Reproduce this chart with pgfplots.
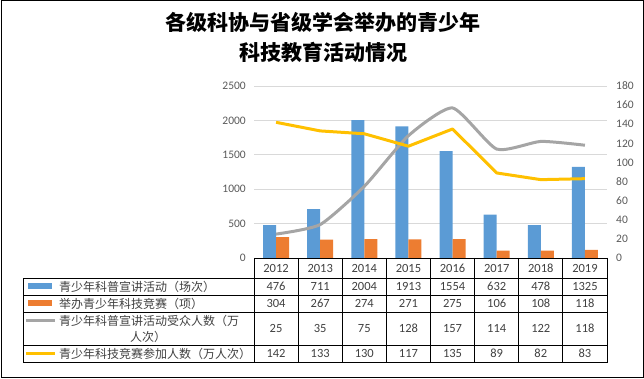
\documentclass[border=0pt]{standalone}
\usepackage{pgfplots}
\pgfplotsset{compat=1.18}
\usepackage{fontspec}
\setmainfont{Carlito}
\newfontfamily\cjk{Noto Sans CJK SC}
\definecolor{cblue}{HTML}{5B9BD5}
\definecolor{corange}{HTML}{ED7D31}
\definecolor{cgray}{HTML}{A5A5A5}
\definecolor{cyellow}{HTML}{FFC000}
\definecolor{ctext}{HTML}{404040}
\definecolor{ctick}{HTML}{595959}
\definecolor{cgrid}{HTML}{D9D9D9}
\begin{document}
\begin{tikzpicture}
\begin{scope}[x=1pt,y=1pt]
\useasboundingbox (0,0) rectangle (644,379);
\draw[line width=1pt] (1,1) rectangle (643,378);
\node[font=\cjk\bfseries\fontsize{21}{25}\selectfont] at (323,357) {各级科协与省级学会举办的青少年};
\node[font=\cjk\bfseries\fontsize{21}{25}\selectfont] at (323,327) {科技教育活动情况};
\end{scope}

\begin{axis}[at={(254pt,121pt)}, anchor=south west, scale only axis,
  width=353pt, height=172pt,
  xmin=-0.5, xmax=7.5, ymin=0, ymax=2500, ytick={0,500,...,2500},
  xtick=\empty, axis line style={draw=none}, ymajorgrids,
  grid style={cgrid, line width=0.75pt}, major tick length=0pt,
  ybar=0pt, bar width=13pt,
  tick label style={font=\fontsize{11.5}{12}\selectfont, text=ctick},
  /pgf/number format/assume math mode=true, /pgf/number format/1000 sep={},
  yticklabel style={xshift=-4.7pt}]
\addplot[fill=cblue, draw=none] coordinates {(0,476) (1,711) (2,2004) (3,1913) (4,1554) (5,632) (6,478) (7,1325)};
\addplot[fill=corange, draw=none] coordinates {(0,304) (1,267) (2,274) (3,271) (4,275) (5,106) (6,108) (7,118)};
\end{axis}

\begin{axis}[at={(254pt,121pt)}, anchor=south west, scale only axis,
  width=353pt, height=172pt,
  xmin=-0.5, xmax=7.5, ymin=0, ymax=180, ytick={0,20,...,180},
  axis y line*=right, axis x line=none, axis line style={draw=none},
  major tick length=0pt,
  tick label style={font=\fontsize{11.5}{12}\selectfont, text=ctick},
  /pgf/number format/assume math mode=true,
  yticklabel style={xshift=5.7pt}]
\addplot[cgray, line width=3pt, smooth, tension=0.35, mark=none] coordinates {(0,25) (1,35) (2,75) (3,128) (4,157) (5,114) (6,122) (7,118)};
\addplot[cyellow, line width=3pt, mark=none, line join=round] coordinates {(0,142) (1,133) (2,130) (3,117) (4,135) (5,89) (6,82) (7,83)};
\end{axis}

\begin{scope}[x=1pt,y=1pt]
\def\cw{44.125}
\tikzset{num/.style={font=\fontsize{12.5}{13}\selectfont, text=ctext}, lab/.style={font=\cjk\fontsize{12}{13}\selectfont, text=ctext, anchor=west, inner sep=0pt}}
\foreach \v [count=\i from 0] in {2012,2013,2014,2015,2016,2017,2018,2019}
  \node[num] at ({254+\cw*(\i+0.5)},111) {\v};
\foreach \v [count=\i from 0] in {476,711,2004,1913,1554,632,478,1325}
  \node[num] at ({254+\cw*(\i+0.5)},92.5) {\v};
\foreach \v [count=\i from 0] in {304,267,274,271,275,106,108,118}
  \node[num] at ({254+\cw*(\i+0.5)},75.5) {\v};
\foreach \v [count=\i from 0] in {25,35,75,128,157,114,122,118}
  \node[num] at ({254+\cw*(\i+0.5)},50.5) {\v};
\foreach \v [count=\i from 0] in {142,133,130,117,135,89,82,83}
  \node[num] at ({254+\cw*(\i+0.5)},25.5) {\v};
\draw[line width=0.8pt] (254,121) -- (607,121);
\foreach \k in {0,...,8} \draw[line width=0.8pt] ({254+\cw*\k},121) -- ({254+\cw*\k},17);
\draw[line width=0.8pt] (23,101) rectangle (607,17);
\draw[line width=0.8pt] (23,84) -- (607,84) (23,67) -- (607,67) (23,34) -- (607,34);
\fill[cblue] (28,89.5) rectangle (52,95.5);
\fill[corange] (28,72.5) rectangle (52,78.5);
\draw[cgray, line width=3pt] (26,58) -- (55,58);
\draw[cyellow, line width=3pt] (26,25.5) -- (55,25.5);
\node[lab] at (59,92.5) {青少年科普宣讲活动（场次）};
\node[lab] at (59,75.5) {举办青少年科技竞赛（项）};
\node[lab] at (59,58) {青少年科普宣讲活动受众人数（万};
\node[font=\cjk\fontsize{12}{13}\selectfont, text=ctext, inner sep=0pt] at (148,42) {人次）};
\node[lab] at (59,25.5) {青少年科技竞赛参加人数（万人次）};
\end{scope}
\end{tikzpicture}
\end{document}
